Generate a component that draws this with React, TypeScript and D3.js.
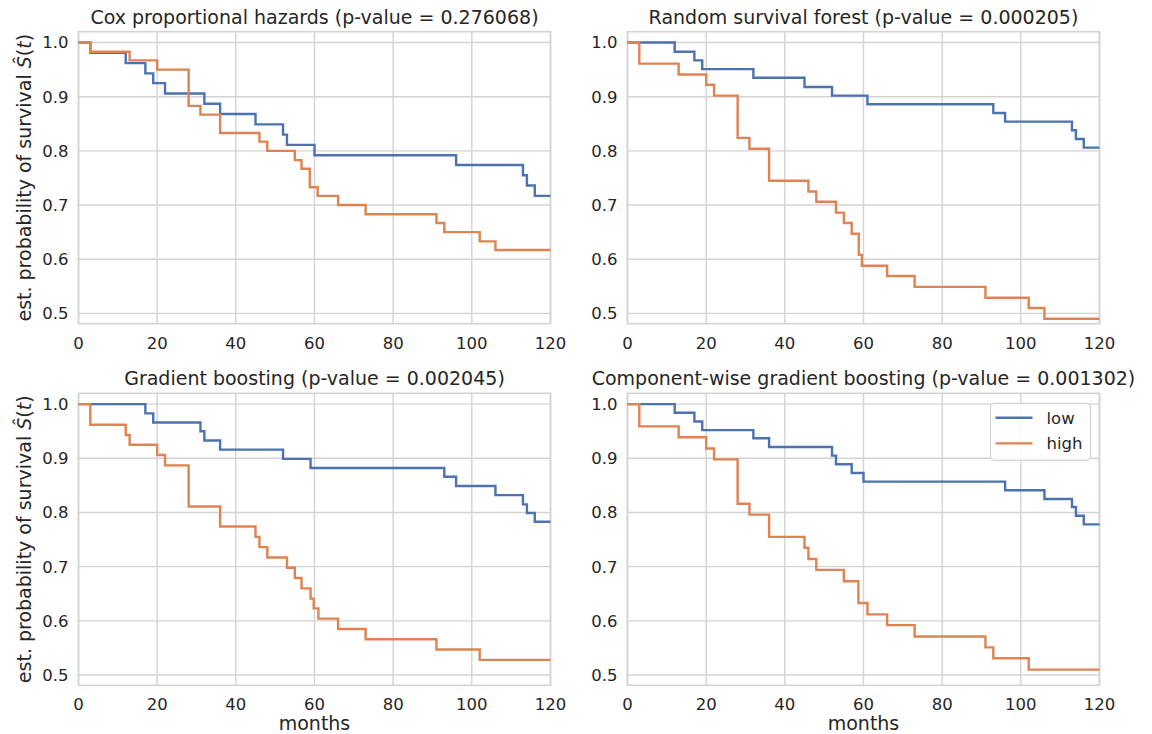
import * as d3 from 'd3';
import React from 'react';

// survival curves (time in months, est. S(t))
const coxLowTime = [0, 3, 12, 17, 19, 22, 32, 36, 45, 52, 53, 60, 96, 113, 114, 116, 120];
const coxLowSurv = [1.0, 0.981, 0.962, 0.943, 0.925, 0.906, 0.887, 0.868, 0.849, 0.830, 0.811, 0.792, 0.774, 0.755, 0.736, 0.717, 0.717];
const coxHighTime = [0, 3, 13, 20, 28, 31, 36, 46, 48, 55, 56.7, 58.8, 60.8, 66, 73, 91, 93, 102, 106, 120];
const coxHighSurv = [1.0, 0.983, 0.967, 0.950, 0.883, 0.867, 0.833, 0.817, 0.800, 0.783, 0.767, 0.733, 0.717, 0.700, 0.683, 0.667, 0.650, 0.633, 0.617, 0.617];

const rsfLowTime = [0, 12, 17, 19, 32, 45, 52, 61, 93, 96, 113, 114, 116, 120];
const rsfLowSurv = [1.0, 0.983, 0.967, 0.951, 0.935, 0.918, 0.902, 0.886, 0.870, 0.854, 0.838, 0.822, 0.806, 0.806];
const rsfHighTime = [0, 3, 13, 20, 22, 28, 31, 36, 46, 48, 53, 55, 57, 58.8, 59.6, 66, 73, 91, 102, 106, 120];
const rsfHighSurv = [1.0, 0.961, 0.941, 0.922, 0.902, 0.824, 0.804, 0.745, 0.725, 0.706, 0.686, 0.667, 0.647, 0.608, 0.588, 0.569, 0.549, 0.529, 0.510, 0.490, 0.490];

const gbLowTime = [0, 17, 19, 31, 32, 36, 52, 59, 93, 96, 106, 113, 114, 116, 120];
const gbLowSurv = [1.0, 0.983, 0.966, 0.950, 0.933, 0.916, 0.899, 0.882, 0.866, 0.849, 0.832, 0.815, 0.799, 0.783, 0.783];
const gbHighTime = [0, 3, 12, 13, 20, 22, 28, 36, 45, 46, 48, 53, 55, 56.7, 59, 59.8, 61, 66, 73, 91, 102, 120];
const gbHighSurv = [1.0, 0.962, 0.943, 0.925, 0.906, 0.887, 0.811, 0.774, 0.755, 0.736, 0.717, 0.698, 0.679, 0.660, 0.641, 0.623, 0.604, 0.585, 0.566, 0.547, 0.528, 0.528];

const cwgbLowTime = [0, 12, 17, 19, 32, 36, 52, 53, 57, 60, 96, 106, 113, 114, 116, 120];
const cwgbLowSurv = [1.0, 0.984, 0.968, 0.952, 0.937, 0.921, 0.905, 0.889, 0.873, 0.857, 0.841, 0.825, 0.810, 0.794, 0.778, 0.778];
const cwgbHighTime = [0, 3, 13, 20, 22, 28, 31, 36, 45, 46, 48, 55, 58.7, 61, 66, 73, 91, 93, 102, 120];
const cwgbHighSurv = [1.0, 0.959, 0.939, 0.918, 0.898, 0.816, 0.796, 0.755, 0.735, 0.714, 0.694, 0.673, 0.633, 0.612, 0.592, 0.571, 0.551, 0.531, 0.510, 0.510];

const titles = [
  'Cox proportional hazards (p-value = 0.276068)',
  'Random survival forest (p-value = 0.000205)',
  'Gradient boosting (p-value = 0.002045)',
  'Component-wise gradient boosting (p-value = 0.001302)',
];
const groups = ['low', 'high'];
const xTicks = [0, 20, 40, 60, 80, 100, 120];
const yTicks = [0.5, 0.6, 0.7, 0.8, 0.9, 1.0];

const colors = ['#4c72b0', '#dd8452'];
const gridColor = '#d3d3d3';
const textColor = '#262626';
const font = 'DejaVu Sans';

const zip = (t, s) => t.map((x, i) => [x, s[i]]);

const panels = [
  { title: titles[0], curves: [zip(coxLowTime, coxLowSurv), zip(coxHighTime, coxHighSurv)], left: 78.5, top: 31.7 },
  { title: titles[1], curves: [zip(rsfLowTime, rsfLowSurv), zip(rsfHighTime, rsfHighSurv)], left: 627.5, top: 31.7 },
  { title: titles[2], curves: [zip(gbLowTime, gbLowSurv), zip(gbHighTime, gbHighSurv)], left: 78.5, top: 393.3 },
  { title: titles[3], curves: [zip(cwgbLowTime, cwgbLowSurv), zip(cwgbHighTime, cwgbHighSurv)], left: 627.5, top: 393.3 },
];

const pw = 472;
const ph = 292;

function Panel({ p, idx }) {
  const x = d3.scaleLinear().domain([0, 120]).range([p.left, p.left + pw]);
  const y = d3.scaleLinear().domain([0.481, 1.02]).range([p.top + ph, p.top]);
  const line = d3.line().x(d => x(d[0])).y(d => y(d[1])).curve(d3.curveStepAfter);
  const isLeft = idx % 2 === 0;
  const isBottom = idx >= 2;
  const cx = p.left + pw / 2;

  return (
    <g>
      {xTicks.map(t => (
        <line key={'gx' + t} x1={x(t)} x2={x(t)} y1={p.top} y2={p.top + ph} stroke={gridColor} strokeWidth={1.4} />
      ))}
      {yTicks.map(t => (
        <line key={'gy' + t} x1={p.left} x2={p.left + pw} y1={y(t)} y2={y(t)} stroke={gridColor} strokeWidth={1.4} />
      ))}
      <rect x={p.left} y={p.top} width={pw} height={ph} fill="none" stroke={gridColor} strokeWidth={1.6} />
      {p.curves.map((c, i) => (
        <path key={i} d={line(c)} fill="none" stroke={colors[i]} strokeWidth={2.4} />
      ))}
      {xTicks.map(t => (
        <text key={'tx' + t} x={x(t)} y={p.top + ph + 25} textAnchor="middle" fontSize={16.5} fill={textColor}>{t}</text>
      ))}
      {yTicks.map(t => (
        <text key={'ty' + t} x={p.left - 10} y={y(t)} dy="0.36em" textAnchor="end" fontSize={16.5} fill={textColor}>{t.toFixed(1)}</text>
      ))}
      <text x={cx} y={p.top - 8} textAnchor="middle" fontSize={19} fill={textColor}>{p.title}</text>
      {isLeft && (
        <text transform={`translate(24,${p.top + ph / 2}) rotate(-90)`} dy="0.36em" textAnchor="middle" fontSize={19} fill={textColor}>
          est. probability of survival <tspan fontStyle="italic">Ŝ</tspan>(<tspan fontStyle="italic">t</tspan>)
        </text>
      )}
      {isBottom && (
        <text x={cx} y={p.top + ph + 45} textAnchor="middle" fontSize={19} fill={textColor}>months</text>
      )}
    </g>
  );
}

function Legend({ p }) {
  const right = p.left + pw - 9;
  const top = p.top + 10;
  const w = 100;
  return (
    <g>
      <rect x={right - w} y={top} width={w} height={57} rx={4} fill="white" fillOpacity={0.85} stroke={gridColor} strokeWidth={1.2} />
      {groups.map((g, i) => (
        <g key={g}>
          <line x1={right - w + 5} x2={right - w + 42} y1={top + 14.5 + i * 25.6} y2={top + 14.5 + i * 25.6} stroke={colors[i]} strokeWidth={2.4} />
          <text x={right - w + 56} y={top + 14.5 + i * 25.6} dy="0.36em" fontSize={16.5} fill={textColor}>{g}</text>
        </g>
      ))}
    </g>
  );
}

export default function App() {
  return (
    <svg width={1152} height={734} style={{ position: 'absolute', left: 0, top: 0, background: 'white' }} fontFamily={font}>
      {panels.map((p, i) => <Panel key={i} p={p} idx={i} />)}
      <Legend p={panels[3]} />
    </svg>
  );
}
